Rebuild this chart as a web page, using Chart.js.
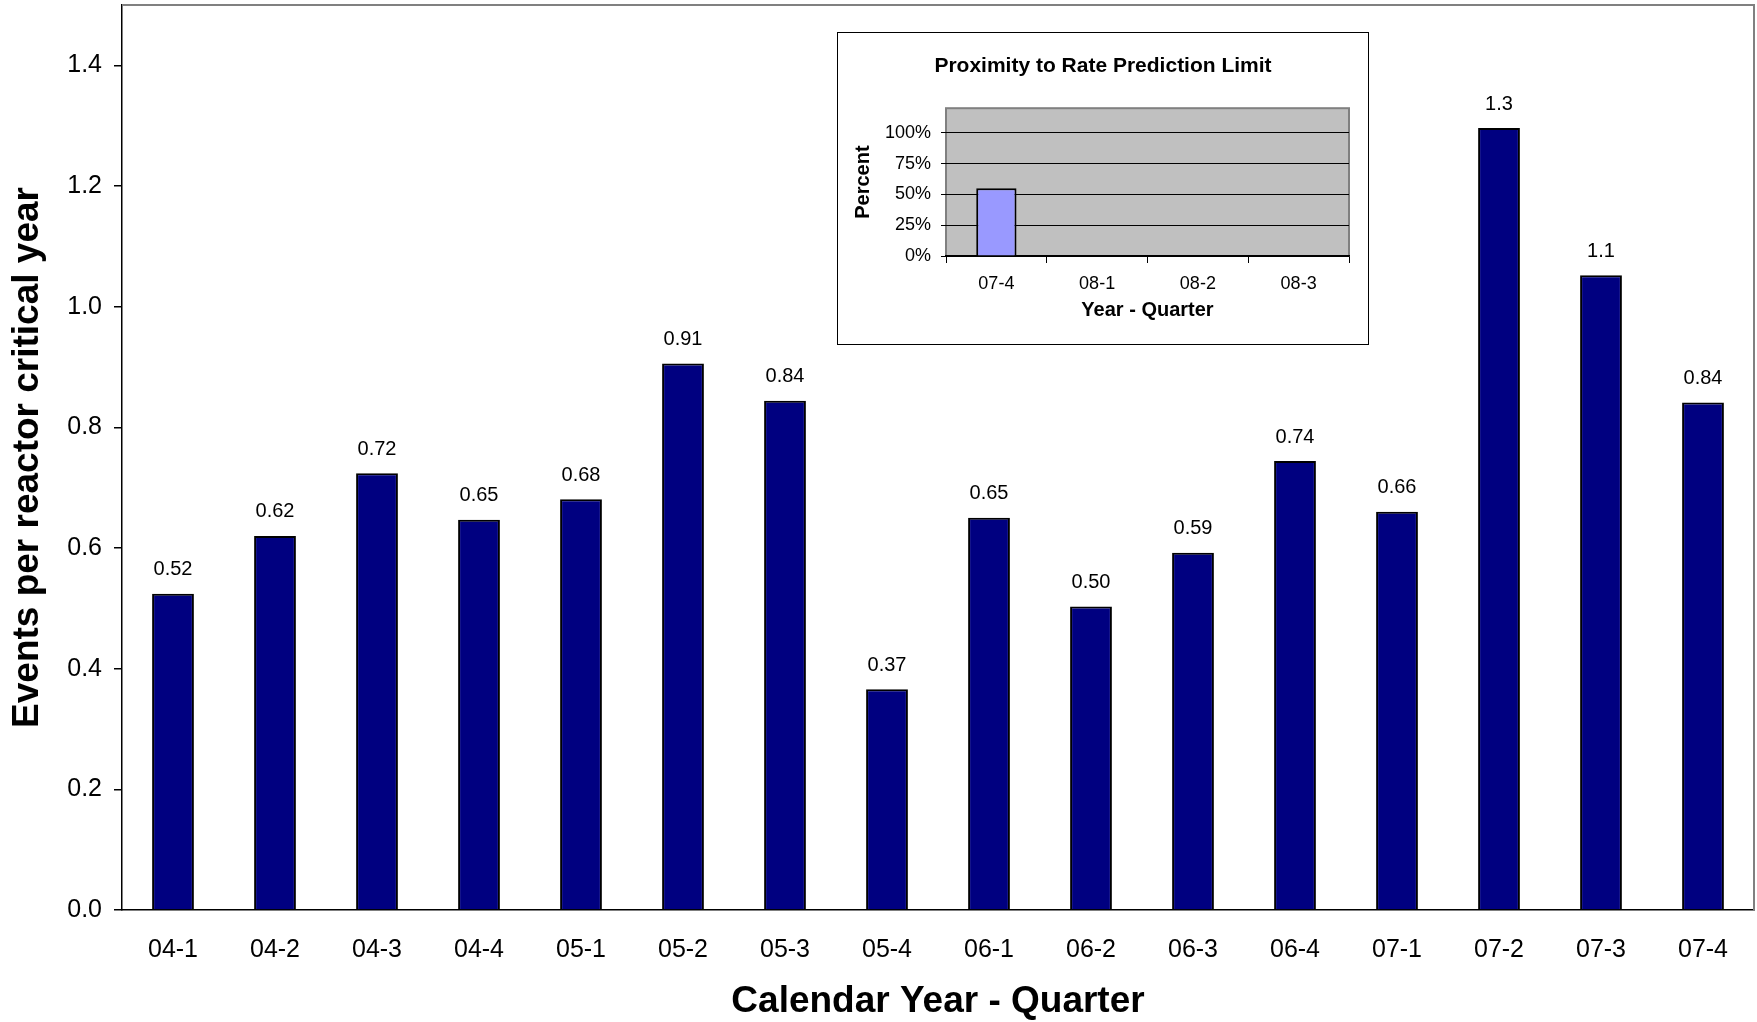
<!DOCTYPE html>
<html lang="en">
<head>
    <meta charset="UTF-8">
    <title>Events per reactor critical year</title>
    <script src="https://cdn.jsdelivr.net/npm/chart.js@4.4.1/dist/chart.umd.min.js"></script>
    <style>
        body {
            margin: 0;
            background: white;
            font-family: "Liberation Sans", Arial, sans-serif;
        }
        .wrap {
            position: relative;
            width: 1757px;
            height: 1022px;
        }
        #mainChart {
            display: block;
        }
        .inset {
            position: absolute;
            left: 837px;
            top: 32px;
            width: 532px;
            height: 313px;
            box-sizing: border-box;
            border: 1px solid #000;
            background: white;
        }
        #insetChart {
            display: block;
        }
    </style>
</head>
<body>
    <div class="wrap">
        <canvas id="mainChart" width="1757" height="1022"></canvas>
        <div class="inset">
            <canvas id="insetChart" width="530" height="311"></canvas>
        </div>
    </div>

    <script>
        // quarters and event rates
        const quarters = ['04-1', '04-2', '04-3', '04-4', '05-1', '05-2', '05-3', '05-4',
                          '06-1', '06-2', '06-3', '06-4', '07-1', '07-2', '07-3', '07-4'];
        const eventRates = [0.524, 0.62, 0.724, 0.647, 0.681, 0.906, 0.844, 0.366,
                            0.65, 0.503, 0.592, 0.744, 0.66, 1.296, 1.052, 0.841];
        const rateTicks = [0, 0.2, 0.4, 0.6, 0.8, 1.0, 1.2, 1.4];

        // inset: proximity to rate prediction limit
        const insetQuarters = ['07-4', '08-1', '08-2', '08-3'];
        const insetPercent = [0.55, null, null, null];
        const insetTicks = [0, 0.25, 0.5, 0.75, 1.0];

        const FONT = '"Liberation Sans", Arial, sans-serif';
        Chart.defaults.font.family = FONT;
        Chart.defaults.color = '#000';

        // value labels above each bar
        const barLabels = {
            id: 'barLabels',
            afterDatasetsDraw(chart) {
                const ctx = chart.ctx;
                const meta = chart.getDatasetMeta(0);
                ctx.save();
                ctx.font = '20px ' + FONT;
                ctx.fillStyle = '#000';
                ctx.textAlign = 'center';
                ctx.textBaseline = 'middle';
                meta.data.forEach((bar, i) => {
                    const v = chart.data.datasets[0].data[i];
                    ctx.fillText(v.toPrecision(2), bar.x, bar.y - 24);
                });
                ctx.restore();
            }
        };

        // top and right edges of the plot area
        const plotFrame = {
            id: 'plotFrame',
            afterDraw(chart) {
                const {ctx, chartArea: a} = chart;
                ctx.save();
                ctx.lineWidth = 2;
                ctx.strokeStyle = '#808080';
                ctx.beginPath();
                ctx.moveTo(a.left, a.top);
                ctx.lineTo(a.right, a.top);
                ctx.lineTo(a.right, a.bottom);
                ctx.stroke();
                ctx.restore();
            }
        };

        new Chart(document.getElementById('mainChart'), {
            type: 'bar',
            data: {
                labels: quarters,
                datasets: [{
                    data: eventRates,
                    backgroundColor: '#000080',
                    borderColor: '#000',
                    borderWidth: 2,
                    barPercentage: 0.41,
                    categoryPercentage: 1.0
                }]
            },
            options: {
                responsive: false,
                animation: false,
                layout: { padding: { top: 5, right: 3, left: 0, bottom: 0 } },
                plugins: {
                    legend: { display: false },
                    tooltip: { enabled: false }
                },
                scales: {
                    x: {
                        grid: { display: false, drawTicks: false },
                        border: { display: true, color: '#000', width: 1.5 },
                        ticks: { font: { size: 25 }, padding: 25, maxRotation: 0, autoSkip: false },
                        title: {
                            display: true,
                            text: 'Calendar Year - Quarter',
                            font: { size: 37, weight: 'bold', lineHeight: 1.1 },
                            padding: { top: 0, bottom: 0 }
                        },
                        afterFit(scale) {
                            scale.height = 112;
                            scale.paddingLeft = 0;
                            scale.paddingRight = 0;
                        }
                    },
                    y: {
                        min: 0,
                        max: 1.5,
                        grid: {
                            drawOnChartArea: false,
                            drawTicks: true,
                            tickLength: 8,
                            tickColor: '#000',
                            lineWidth: 1.5
                        },
                        border: { display: true, color: '#000', width: 1.5 },
                        ticks: {
                            font: { size: 25 },
                            padding: 12,
                            callback: v => v.toFixed(1)
                        },
                        afterBuildTicks(scale) {
                            scale.ticks = rateTicks.map(v => ({ value: v }));
                        },
                        title: {
                            display: true,
                            text: 'Events per reactor critical year',
                            font: { size: 37, weight: 'bold' },
                            padding: { top: 6, bottom: 0 }
                        },
                        afterFit(scale) {
                            scale.width = 122;
                            scale.paddingTop = 0;
                            scale.paddingBottom = 0;
                        }
                    }
                }
            },
            plugins: [barLabels, plotFrame]
        });

        // grey plot background + frame for the inset
        const insetBackground = {
            id: 'insetBackground',
            beforeDraw(chart) {
                const {ctx, chartArea: a} = chart;
                ctx.save();
                ctx.fillStyle = '#c0c0c0';
                ctx.fillRect(a.left, a.top, a.right - a.left, a.bottom - a.top);
                ctx.strokeStyle = '#808080';
                ctx.lineWidth = 2;
                ctx.strokeRect(a.left, a.top, a.right - a.left, a.bottom - a.top);
                ctx.restore();
            }
        };

        new Chart(document.getElementById('insetChart'), {
            type: 'bar',
            data: {
                labels: insetQuarters,
                datasets: [{
                    data: insetPercent,
                    backgroundColor: '#9999ff',
                    borderColor: '#000',
                    borderWidth: 2,
                    barPercentage: 0.4,
                    categoryPercentage: 1.0
                }]
            },
            options: {
                responsive: false,
                animation: false,
                layout: { padding: 0 },
                plugins: {
                    legend: { display: false },
                    tooltip: { enabled: false },
                    title: {
                        display: true,
                        text: 'Proximity to Rate Prediction Limit',
                        font: { size: 21, weight: 'bold' },
                        padding: { top: 21, bottom: 29 }
                    }
                },
                scales: {
                    x: {
                        grid: {
                            drawOnChartArea: false,
                            drawTicks: true,
                            tickLength: 7,
                            tickColor: '#000'
                        },
                        border: { display: true, color: '#000', width: 1.5 },
                        ticks: { font: { size: 18 }, padding: 10, maxRotation: 0 },
                        title: {
                            display: true,
                            text: 'Year - Quarter',
                            font: { size: 20, weight: 'bold' },
                            padding: { top: 0, bottom: 22 }
                        },
                        afterFit(scale) {
                            // keep the plot clear of the right edge of the box
                            scale.height = 88;
                            scale.paddingLeft = 0;
                            scale.paddingRight = 19;
                        }
                    },
                    y: {
                        min: 0,
                        max: 1.2,
                        grid: {
                            color: '#000',
                            drawTicks: true,
                            tickLength: 5,
                            tickColor: '#000'
                        },
                        border: { display: false },
                        ticks: {
                            font: { size: 18 },
                            padding: 10,
                            callback: v => Math.round(v * 100) + '%'
                        },
                        afterBuildTicks(scale) {
                            scale.ticks = insetTicks.map(v => ({ value: v }));
                        },
                        title: {
                            display: true,
                            text: 'Percent',
                            font: { size: 20, weight: 'bold' },
                            padding: { top: 13, bottom: 0 }
                        },
                        afterFit(scale) {
                            scale.width = 108;
                            scale.paddingTop = 0;
                            scale.paddingBottom = 0;
                        }
                    }
                }
            },
            plugins: [insetBackground]
        });
    </script>
</body>
</html>
